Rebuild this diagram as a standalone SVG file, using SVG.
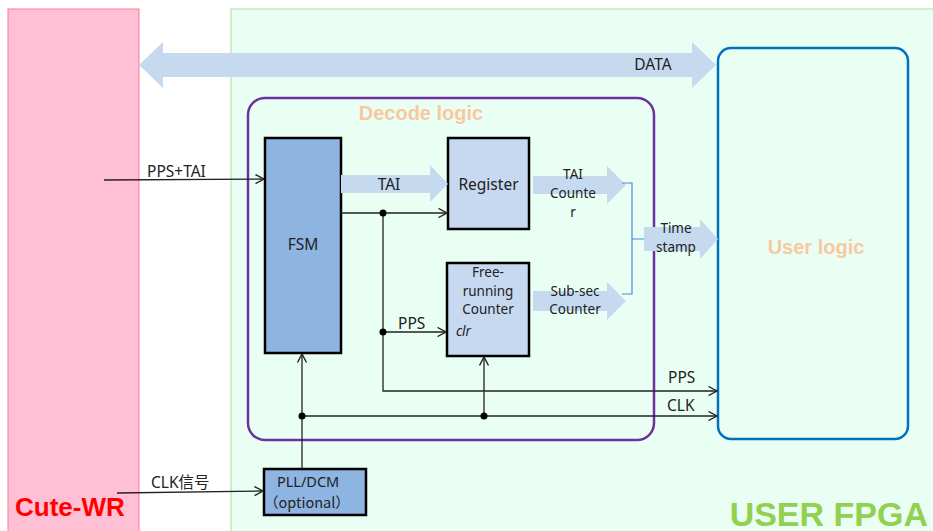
<svg xmlns="http://www.w3.org/2000/svg" width="933" height="531" viewBox="0 0 933 531">
<defs>
<marker id="oa" viewBox="0 0 10 10" refX="9.5" refY="5" markerWidth="10" markerHeight="10" markerUnits="userSpaceOnUse" orient="auto">
<path d="M1,0.5 L9.5,5 L1,9.5" fill="none" stroke="#222" stroke-width="1.4"/>
</marker>
</defs>
<style>
text{font-family:"Noto Sans","Liberation Sans","Noto Sans CJK SC",sans-serif;fill:#222}
.lbl{font-size:15.5px}
.sm{font-size:13.5px}
.blk{stroke:#000;stroke-width:2.5}
.wire{stroke:#222;stroke-width:1.3;fill:none}
.fat{fill:#c5d9ef}
.org{font-family:"Liberation Sans",Arial,sans-serif;font-weight:bold;fill:#f8c9a0;font-size:20px}
</style>
<rect width="933" height="531" fill="#ffffff"/>
<g id="cute-wr">
<rect x="8" y="9" width="131" height="530" fill="#ffc0d6" stroke="#ff7a8a" stroke-width="1"/>
<text x="15" y="516" style="font-family:'Liberation Sans',Arial,sans-serif;font-weight:bold;font-size:26px;fill:#ff0000">Cute-WR</text>
</g>
<g id="user-fpga">
<rect x="231" y="9" width="710" height="530" fill="#eafff4" stroke="#a9df8f" stroke-width="1"/>
<text x="928" y="526" text-anchor="end" style="font-family:'Liberation Sans',Arial,sans-serif;font-weight:bold;font-size:34px;fill:#92d050">USER FPGA</text>
</g>
<g id="data-arrow">
<path class="fat" d="M139,65 L163,42 L163,53 L692,53 L692,42 L716,65 L692,88 L692,77 L163,77 L163,88 Z"/>
<text class="lbl" x="653" y="70" text-anchor="middle">DATA</text>
</g>
<g id="decode-logic">
<rect x="248" y="98" width="406" height="342" rx="17" fill="none" stroke="#7030a0" stroke-width="2.5"/>
<text class="org" x="421" y="120" text-anchor="middle">Decode logic</text>
</g>
<g id="user-logic">
<rect x="718" y="48" width="190" height="391" rx="13" fill="none" stroke="#0070c0" stroke-width="2.5"/>
<text class="org" x="816" y="254" text-anchor="middle">User logic</text>
</g>
<g id="fsm">
<rect class="blk" x="265" y="138" width="76" height="215" fill="#8eb4e2"/>
<text class="lbl" x="303" y="250" text-anchor="middle">FSM</text>
</g>
<g id="register">
<rect class="blk" x="448" y="138" width="81" height="91" fill="#c6d9f1"/>
<text class="lbl" x="488.5" y="190" text-anchor="middle">Register</text>
</g>
<g id="free-running-counter">
<rect class="blk" x="447" y="263" width="82" height="93" fill="#c6d9f1"/>
<text class="sm" text-anchor="middle"><tspan x="488" y="277">Free-</tspan><tspan x="488" y="296">running</tspan><tspan x="488" y="314">Counter</tspan></text>
<text class="sm" x="456" y="336" style="font-style:italic">clr</text>
</g>
<g id="pll-dcm">
<rect class="blk" x="264" y="469" width="102" height="46" fill="#8eb4e2"/>
<text class="sm" x="277" y="487" style="font-size:14.5px">PLL/DCM</text>
<text class="sm" x="264" y="508" style="font-family:'Noto Sans CJK SC','Noto Sans',sans-serif;font-size:14.5px">（optional）</text>
</g>
<g id="connectors">
<path class="fat" d="M341,175 L430,175 L430,165 L448,184 L430,202 L430,193 L341,193 Z"/>
<text class="lbl" x="389" y="190" text-anchor="middle">TAI</text>
<path class="fat" d="M533,176 L607,176 L607,166 L626,185 L607,204 L607,194 L533,194 Z"/>
<text class="sm" text-anchor="middle"><tspan x="573" y="179">TAI</tspan><tspan x="573" y="198">Counte</tspan><tspan x="573" y="217">r</tspan></text>
<path class="fat" d="M533,291 L607,291 L607,282 L626,301 L607,320 L607,311 L533,311 Z"/>
<text class="sm" text-anchor="middle"><tspan x="575" y="296">Sub-sec</tspan><tspan x="575" y="314">Counter</tspan></text>
<path d="M622,183 L632,183 L632,294 L622,294 M632,239 L645,239" fill="none" stroke="#4a8ad0" stroke-width="1.2"/>
<path class="fat" d="M644,227 L700,227 L700,219 L718,239 L700,259 L700,251 L644,251 Z"/>
<text class="sm" text-anchor="middle"><tspan x="676" y="233">Time</tspan><tspan x="676" y="252">stamp</tspan></text>
<path class="wire" d="M104,180 L264,179" marker-end="url(#oa)"/>
<text class="lbl" x="147" y="177">PPS+TAI</text>
<path class="wire" d="M117,493 L263,491" marker-end="url(#oa)"/>
<text class="lbl" x="151" y="488" style="font-family:'Noto Sans','Noto Sans CJK SC',sans-serif">CLK信号</text>
<path class="wire" d="M341,213 L447,213" marker-end="url(#oa)"/>
<path class="wire" d="M383,213 L383,391 L717,391" marker-end="url(#oa)"/>
<path class="wire" d="M383,332 L446,332" marker-end="url(#oa)"/>
<text class="lbl" x="398" y="329">PPS</text>
<text class="lbl" x="668" y="383">PPS</text>
<path class="wire" d="M302,469 L302,354" marker-end="url(#oa)"/>
<path class="wire" d="M302,416 L717,416" marker-end="url(#oa)"/>
<text class="lbl" x="667" y="411">CLK</text>
<path class="wire" d="M484,416 L484,357" marker-end="url(#oa)"/>
<circle cx="383" cy="213" r="3.5" fill="#000"/>
<circle cx="383" cy="332" r="3.5" fill="#000"/>
<circle cx="302" cy="416" r="3.5" fill="#000"/>
<circle cx="484" cy="416" r="3.5" fill="#000"/>
</g>
</svg>
